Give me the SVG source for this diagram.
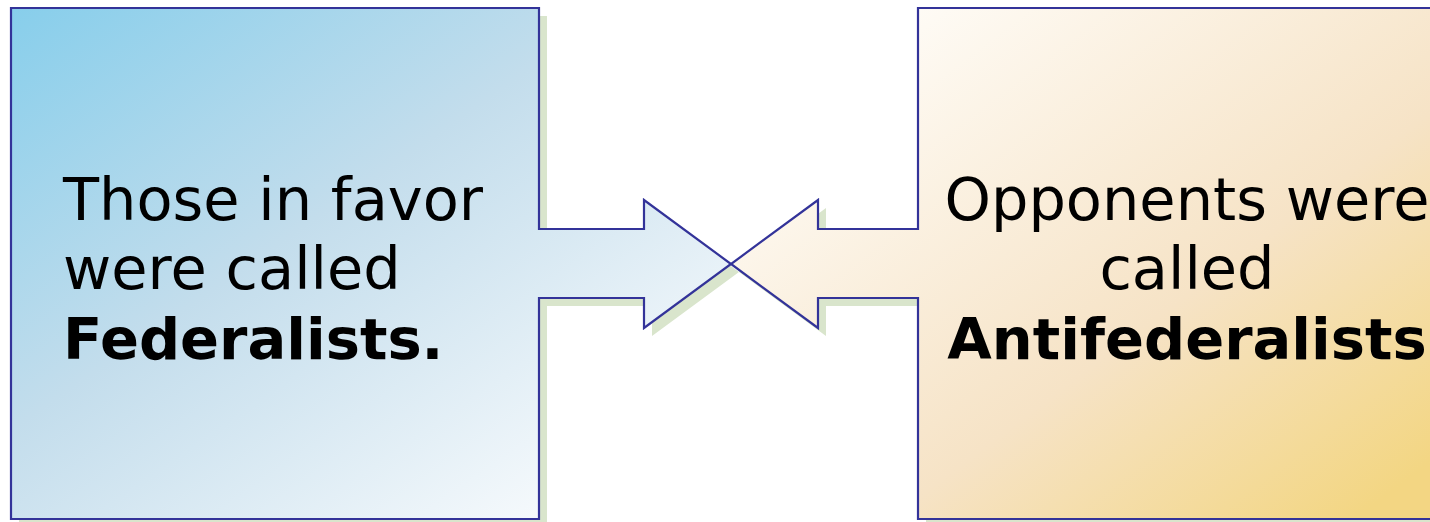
<svg xmlns="http://www.w3.org/2000/svg" width="1430" height="522" viewBox="0 0 1430 522">
<defs>
<linearGradient id="gBlue" gradientUnits="userSpaceOnUse" x1="11" y1="8" x2="450" y2="640">
<stop offset="0" stop-color="#87ceeb"/>
<stop offset="0.45" stop-color="#c3ddec"/>
<stop offset="1" stop-color="#fcfdfe"/>
</linearGradient>
<linearGradient id="gGold" gradientUnits="userSpaceOnUse" x1="880" y1="0" x2="1300" y2="560">
<stop offset="0" stop-color="#fffdf9"/>
<stop offset="0.6" stop-color="#f6e3c6"/>
<stop offset="1" stop-color="#f3d683"/>
</linearGradient>
<style>
.shadow{fill:#d9e5cc;}
.shape{stroke:#333399;stroke-width:2.2;stroke-linejoin:miter;}
.t{font-family:"DejaVu Sans",Verdana,sans-serif;font-size:59px;fill:#000;}
.b{font-weight:bold;font-size:57.5px;}
</style>
</defs>
<g id="federalists">
<path class="shadow" transform="translate(8,8)" d="M11,8 H539 V229 H644 V200 L731,264 L644,328 V298 H539 V519 H11 Z"/>
<path class="shape" fill="url(#gBlue)" d="M11,8 H539 V229 H644 V200 L731,264 L644,328 V298 H539 V519 H11 Z"/>
<text class="t" x="63" y="220">Those in favor</text>
<text class="t" x="63" y="289">were called</text>
<text class="t b" x="63" y="359">Federalists.</text>
</g>
<g id="antifederalists">
<path class="shadow" transform="translate(8,8)" d="M1445,8 H918 V229 H818 V200 L731,264 L818,328 V298 H918 V519 H1445 Z"/>
<path class="shape" fill="url(#gGold)" d="M1445,8 H918 V229 H818 V200 L731,264 L818,328 V298 H918 V519 H1445 Z"/>
<text class="t" x="1187" y="220" text-anchor="middle">Opponents were</text>
<text class="t" x="1187" y="289" text-anchor="middle">called</text>
<text class="t b" x="1187" y="359" text-anchor="middle">Antifederalists</text>
</g>
<g id="connectors"></g>
</svg>
